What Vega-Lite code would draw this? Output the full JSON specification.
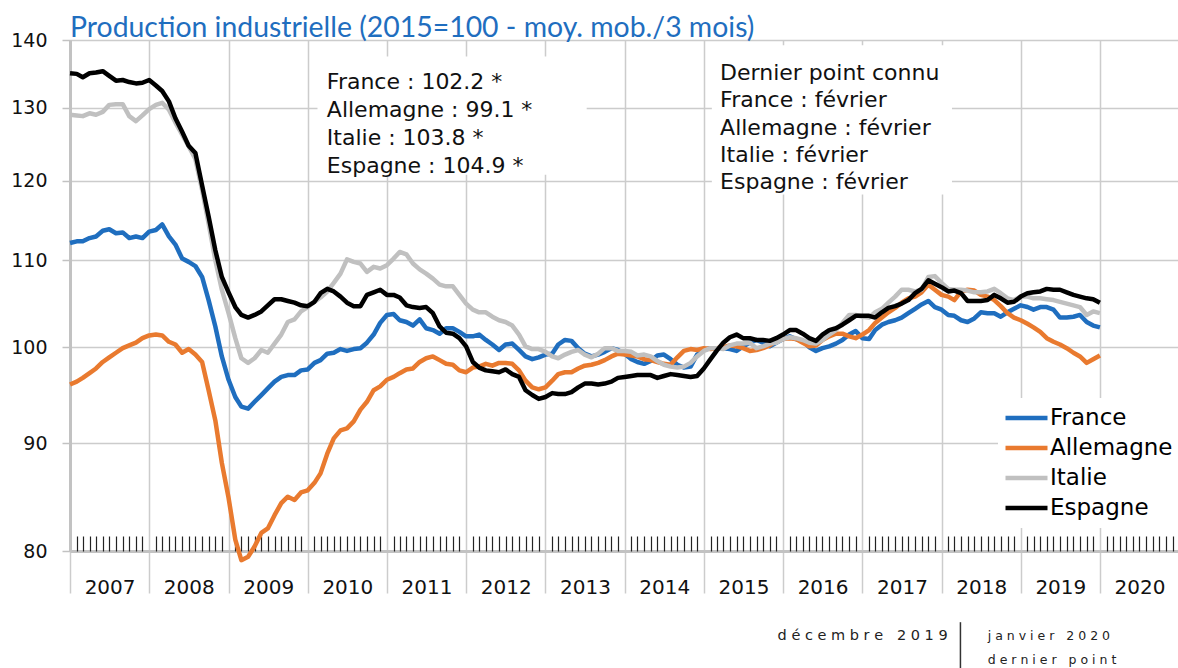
{
  "$schema": "https://vega.github.io/schema/vega-lite/v6.json",
  "width": 1108,
  "height": 511,
  "autosize": {"type": "none"},
  "padding": {"left": 70, "top": 40, "right": 0, "bottom": 117},
  "background": "white",
  "config": {"view": {"stroke": null}, "font": "DejaVu Sans"},
  "title": {"text": "Production industrielle (2015=100 - moy. mob./3 mois)", "anchor": "start", "frame": "group", "font": "Lato", "fontSize": 28.4, "fontWeight": "normal", "color": "#1f6ebf", "offset": 4, "dy": 16},
  "datasets": {
    "ip": [
      {"d":"2007/01/01","France":112.1,"Allemagne":96.0,"Italie":129.0,"Espagne":135.0},
      {"d":"2007/02/01","France":112.3,"Allemagne":96.3,"Italie":128.9,"Espagne":134.9},
      {"d":"2007/03/01","France":112.3,"Allemagne":96.7,"Italie":128.8,"Espagne":134.4},
      {"d":"2007/04/01","France":112.7,"Allemagne":97.2,"Italie":129.2,"Espagne":135.0},
      {"d":"2007/05/01","France":112.9,"Allemagne":97.7,"Italie":129.0,"Espagne":135.1},
      {"d":"2007/06/01","France":113.6,"Allemagne":98.4,"Italie":129.4,"Espagne":135.3},
      {"d":"2007/07/01","France":113.8,"Allemagne":98.9,"Italie":130.4,"Espagne":134.6},
      {"d":"2007/08/01","France":113.3,"Allemagne":99.4,"Italie":130.5,"Espagne":133.9},
      {"d":"2007/09/01","France":113.4,"Allemagne":99.9,"Italie":130.5,"Espagne":134.0},
      {"d":"2007/10/01","France":112.7,"Allemagne":100.2,"Italie":128.8,"Espagne":133.7},
      {"d":"2007/11/01","France":112.9,"Allemagne":100.5,"Italie":128.1,"Espagne":133.5},
      {"d":"2007/12/01","France":112.7,"Allemagne":101.0,"Italie":128.9,"Espagne":133.6},
      {"d":"2008/01/01","France":113.5,"Allemagne":101.3,"Italie":129.8,"Espagne":134.0},
      {"d":"2008/02/01","France":113.7,"Allemagne":101.4,"Italie":130.4,"Espagne":133.2},
      {"d":"2008/03/01","France":114.4,"Allemagne":101.3,"Italie":130.7,"Espagne":132.4},
      {"d":"2008/04/01","France":112.9,"Allemagne":100.6,"Italie":129.7,"Espagne":130.9},
      {"d":"2008/05/01","France":111.9,"Allemagne":100.3,"Italie":127.9,"Espagne":128.5},
      {"d":"2008/06/01","France":110.2,"Allemagne":99.4,"Italie":126.2,"Espagne":126.6},
      {"d":"2008/07/01","France":109.8,"Allemagne":99.8,"Italie":124.6,"Espagne":124.7},
      {"d":"2008/08/01","France":109.3,"Allemagne":99.2,"Italie":122.9,"Espagne":123.7},
      {"d":"2008/09/01","France":108.0,"Allemagne":98.4,"Italie":118.8,"Espagne":119.4},
      {"d":"2008/10/01","France":105.3,"Allemagne":95.4,"Italie":114.5,"Espagne":115.4},
      {"d":"2008/11/01","France":102.3,"Allemagne":92.3,"Italie":110.0,"Espagne":111.2},
      {"d":"2008/12/01","France":99.0,"Allemagne":88.1,"Italie":106.5,"Espagne":108.0},
      {"d":"2009/01/01","France":96.5,"Allemagne":84.8,"Italie":103.8,"Espagne":106.2},
      {"d":"2009/02/01","France":94.7,"Allemagne":81.0,"Italie":101.0,"Espagne":104.5},
      {"d":"2009/03/01","France":93.7,"Allemagne":79.2,"Italie":98.8,"Espagne":103.6},
      {"d":"2009/04/01","France":93.5,"Allemagne":79.5,"Italie":98.3,"Espagne":103.3},
      {"d":"2009/05/01","France":94.2,"Allemagne":80.4,"Italie":98.8,"Espagne":103.6},
      {"d":"2009/06/01","France":94.9,"Allemagne":81.6,"Italie":99.7,"Espagne":104.0},
      {"d":"2009/07/01","France":95.6,"Allemagne":82.0,"Italie":99.4,"Espagne":104.7},
      {"d":"2009/08/01","France":96.3,"Allemagne":83.2,"Italie":100.4,"Espagne":105.4},
      {"d":"2009/09/01","France":96.8,"Allemagne":84.3,"Italie":101.4,"Espagne":105.4},
      {"d":"2009/10/01","France":97.0,"Allemagne":84.9,"Italie":102.8,"Espagne":105.2},
      {"d":"2009/11/01","France":97.0,"Allemagne":84.6,"Italie":103.1,"Espagne":105.0},
      {"d":"2009/12/01","France":97.5,"Allemagne":85.3,"Italie":104.0,"Espagne":104.7},
      {"d":"2010/01/01","France":97.6,"Allemagne":85.5,"Italie":104.5,"Espagne":104.6},
      {"d":"2010/02/01","France":98.3,"Allemagne":86.2,"Italie":105.1,"Espagne":105.1},
      {"d":"2010/03/01","France":98.6,"Allemagne":87.1,"Italie":105.6,"Espagne":106.1},
      {"d":"2010/04/01","France":99.3,"Allemagne":89.0,"Italie":106.3,"Espagne":106.6},
      {"d":"2010/05/01","France":99.4,"Allemagne":90.5,"Italie":107.3,"Espagne":106.3},
      {"d":"2010/06/01","France":99.8,"Allemagne":91.3,"Italie":108.4,"Espagne":105.7},
      {"d":"2010/07/01","France":99.6,"Allemagne":91.5,"Italie":110.1,"Espagne":105.0},
      {"d":"2010/08/01","France":99.8,"Allemagne":92.2,"Italie":109.8,"Espagne":104.6},
      {"d":"2010/09/01","France":99.9,"Allemagne":93.4,"Italie":109.6,"Espagne":104.6},
      {"d":"2010/10/01","France":100.5,"Allemagne":94.2,"Italie":108.6,"Espagne":105.9},
      {"d":"2010/11/01","France":101.4,"Allemagne":95.4,"Italie":109.2,"Espagne":106.2},
      {"d":"2010/12/01","France":102.7,"Allemagne":95.8,"Italie":109.0,"Espagne":106.5},
      {"d":"2011/01/01","France":103.6,"Allemagne":96.5,"Italie":109.4,"Espagne":105.9},
      {"d":"2011/02/01","France":103.7,"Allemagne":96.8,"Italie":110.2,"Espagne":105.9},
      {"d":"2011/03/01","France":103.0,"Allemagne":97.2,"Italie":111.0,"Espagne":105.6},
      {"d":"2011/04/01","France":102.8,"Allemagne":97.6,"Italie":110.7,"Espagne":104.7},
      {"d":"2011/05/01","France":102.4,"Allemagne":97.7,"Italie":109.6,"Espagne":104.5},
      {"d":"2011/06/01","France":103.1,"Allemagne":98.4,"Italie":108.9,"Espagne":104.4},
      {"d":"2011/07/01","France":102.1,"Allemagne":98.8,"Italie":108.4,"Espagne":104.5},
      {"d":"2011/08/01","France":101.9,"Allemagne":99.0,"Italie":107.8,"Espagne":103.8},
      {"d":"2011/09/01","France":101.5,"Allemagne":98.6,"Italie":107.1,"Espagne":102.3},
      {"d":"2011/10/01","France":102.1,"Allemagne":98.2,"Italie":106.9,"Espagne":101.6},
      {"d":"2011/11/01","France":102.1,"Allemagne":98.1,"Italie":106.9,"Espagne":101.5},
      {"d":"2011/12/01","France":101.7,"Allemagne":97.5,"Italie":105.9,"Espagne":101.0},
      {"d":"2012/01/01","France":101.2,"Allemagne":97.3,"Italie":104.9,"Espagne":100.1},
      {"d":"2012/02/01","France":101.2,"Allemagne":97.8,"Italie":104.2,"Espagne":98.4},
      {"d":"2012/03/01","France":101.4,"Allemagne":97.9,"Italie":103.9,"Espagne":97.8},
      {"d":"2012/04/01","France":100.8,"Allemagne":98.2,"Italie":103.9,"Espagne":97.5},
      {"d":"2012/05/01","France":100.3,"Allemagne":98.0,"Italie":103.4,"Espagne":97.4},
      {"d":"2012/06/01","France":99.7,"Allemagne":98.3,"Italie":103.0,"Espagne":97.3},
      {"d":"2012/07/01","France":100.3,"Allemagne":98.3,"Italie":102.8,"Espagne":97.6},
      {"d":"2012/08/01","France":100.4,"Allemagne":98.2,"Italie":102.4,"Espagne":97.1},
      {"d":"2012/09/01","France":99.7,"Allemagne":97.5,"Italie":101.4,"Espagne":96.8},
      {"d":"2012/10/01","France":99.0,"Allemagne":96.4,"Italie":100.1,"Espagne":95.4},
      {"d":"2012/11/01","France":98.7,"Allemagne":95.7,"Italie":99.8,"Espagne":94.9},
      {"d":"2012/12/01","France":98.9,"Allemagne":95.5,"Italie":99.8,"Espagne":94.5},
      {"d":"2013/01/01","France":99.2,"Allemagne":95.7,"Italie":99.5,"Espagne":94.7},
      {"d":"2013/02/01","France":99.3,"Allemagne":96.4,"Italie":99.0,"Espagne":95.1},
      {"d":"2013/03/01","France":100.3,"Allemagne":97.1,"Italie":98.8,"Espagne":95.0},
      {"d":"2013/04/01","France":100.8,"Allemagne":97.3,"Italie":99.2,"Espagne":95.0},
      {"d":"2013/05/01","France":100.7,"Allemagne":97.3,"Italie":99.5,"Espagne":95.2},
      {"d":"2013/06/01","France":99.9,"Allemagne":97.7,"Italie":99.7,"Espagne":95.7},
      {"d":"2013/07/01","France":99.3,"Allemagne":98.0,"Italie":99.2,"Espagne":96.1},
      {"d":"2013/08/01","France":99.0,"Allemagne":98.1,"Italie":98.9,"Espagne":96.1},
      {"d":"2013/09/01","France":99.2,"Allemagne":98.3,"Italie":99.3,"Espagne":96.0},
      {"d":"2013/10/01","France":99.5,"Allemagne":98.6,"Italie":99.9,"Espagne":96.1},
      {"d":"2013/11/01","France":99.9,"Allemagne":99.0,"Italie":99.9,"Espagne":96.3},
      {"d":"2013/12/01","France":99.7,"Allemagne":99.3,"Italie":99.6,"Espagne":96.7},
      {"d":"2014/01/01","France":99.3,"Allemagne":99.2,"Italie":99.6,"Espagne":96.8},
      {"d":"2014/02/01","France":98.7,"Allemagne":99.1,"Italie":99.5,"Espagne":96.9},
      {"d":"2014/03/01","France":98.4,"Allemagne":99.0,"Italie":99.1,"Espagne":97.0},
      {"d":"2014/04/01","France":98.2,"Allemagne":98.7,"Italie":99.2,"Espagne":97.0},
      {"d":"2014/05/01","France":98.5,"Allemagne":98.6,"Italie":99.0,"Espagne":97.0},
      {"d":"2014/06/01","France":99.1,"Allemagne":98.4,"Italie":98.5,"Espagne":96.7},
      {"d":"2014/07/01","France":99.2,"Allemagne":98.2,"Italie":98.1,"Espagne":96.9},
      {"d":"2014/08/01","France":98.7,"Allemagne":98.1,"Italie":97.9,"Espagne":97.1},
      {"d":"2014/09/01","France":98.1,"Allemagne":98.9,"Italie":97.8,"Espagne":97.0},
      {"d":"2014/10/01","France":97.8,"Allemagne":99.6,"Italie":97.9,"Espagne":96.9},
      {"d":"2014/11/01","France":97.9,"Allemagne":99.8,"Italie":98.3,"Espagne":96.8},
      {"d":"2014/12/01","France":99.2,"Allemagne":99.7,"Italie":99.0,"Espagne":96.9},
      {"d":"2015/01/01","France":99.7,"Allemagne":99.9,"Italie":99.6,"Espagne":97.7},
      {"d":"2015/02/01","France":99.9,"Allemagne":99.8,"Italie":99.9,"Espagne":98.7},
      {"d":"2015/03/01","France":99.9,"Allemagne":99.9,"Italie":99.9,"Espagne":99.6},
      {"d":"2015/04/01","France":99.9,"Allemagne":100.0,"Italie":99.8,"Espagne":100.5},
      {"d":"2015/05/01","France":99.8,"Allemagne":100.2,"Italie":100.2,"Espagne":101.1},
      {"d":"2015/06/01","France":99.6,"Allemagne":100.1,"Italie":100.4,"Espagne":101.4},
      {"d":"2015/07/01","France":100.1,"Allemagne":99.9,"Italie":100.4,"Espagne":101.0},
      {"d":"2015/08/01","France":100.5,"Allemagne":99.6,"Italie":100.5,"Espagne":101.0},
      {"d":"2015/09/01","France":100.8,"Allemagne":99.7,"Italie":99.9,"Espagne":100.8},
      {"d":"2015/10/01","France":100.5,"Allemagne":99.9,"Italie":100.1,"Espagne":100.8},
      {"d":"2015/11/01","France":100.1,"Allemagne":100.2,"Italie":100.4,"Espagne":100.7},
      {"d":"2015/12/01","France":100.5,"Allemagne":100.7,"Italie":100.5,"Espagne":101.0},
      {"d":"2016/01/01","France":100.9,"Allemagne":100.9,"Italie":100.9,"Espagne":101.4},
      {"d":"2016/02/01","France":101.2,"Allemagne":101.0,"Italie":101.1,"Espagne":101.9},
      {"d":"2016/03/01","France":100.9,"Allemagne":100.9,"Italie":101.0,"Espagne":101.9},
      {"d":"2016/04/01","France":100.7,"Allemagne":100.5,"Italie":100.8,"Espagne":101.5},
      {"d":"2016/05/01","France":100.0,"Allemagne":100.1,"Italie":100.5,"Espagne":101.0},
      {"d":"2016/06/01","France":99.6,"Allemagne":100.2,"Italie":100.4,"Espagne":100.7},
      {"d":"2016/07/01","France":99.9,"Allemagne":100.8,"Italie":100.8,"Espagne":101.4},
      {"d":"2016/08/01","France":100.1,"Allemagne":101.2,"Italie":101.4,"Espagne":101.9},
      {"d":"2016/09/01","France":100.4,"Allemagne":101.5,"Italie":101.9,"Espagne":102.1},
      {"d":"2016/10/01","France":100.8,"Allemagne":101.5,"Italie":102.7,"Espagne":102.5},
      {"d":"2016/11/01","France":101.4,"Allemagne":101.2,"Italie":103.6,"Espagne":103.0},
      {"d":"2016/12/01","France":101.8,"Allemagne":101.0,"Italie":103.6,"Espagne":103.5},
      {"d":"2017/01/01","France":101.0,"Allemagne":101.4,"Italie":103.4,"Espagne":103.5},
      {"d":"2017/02/01","France":100.9,"Allemagne":101.9,"Italie":103.3,"Espagne":103.5},
      {"d":"2017/03/01","France":101.9,"Allemagne":102.7,"Italie":103.9,"Espagne":103.3},
      {"d":"2017/04/01","France":102.5,"Allemagne":103.3,"Italie":104.3,"Espagne":103.9},
      {"d":"2017/05/01","France":102.8,"Allemagne":103.9,"Italie":105.0,"Espagne":104.4},
      {"d":"2017/06/01","France":103.0,"Allemagne":104.4,"Italie":105.7,"Espagne":104.6},
      {"d":"2017/07/01","France":103.3,"Allemagne":105.0,"Italie":106.5,"Espagne":104.9},
      {"d":"2017/08/01","France":103.8,"Allemagne":105.5,"Italie":106.5,"Espagne":105.3},
      {"d":"2017/09/01","France":104.3,"Allemagne":105.7,"Italie":106.3,"Espagne":106.1},
      {"d":"2017/10/01","France":104.8,"Allemagne":106.2,"Italie":106.5,"Espagne":106.6},
      {"d":"2017/11/01","France":105.2,"Allemagne":107.1,"Italie":108.0,"Espagne":107.6},
      {"d":"2017/12/01","France":104.5,"Allemagne":106.5,"Italie":108.1,"Espagne":107.2},
      {"d":"2018/01/01","France":104.2,"Allemagne":105.9,"Italie":107.3,"Espagne":106.8},
      {"d":"2018/02/01","France":103.6,"Allemagne":105.7,"Italie":106.6,"Espagne":106.3},
      {"d":"2018/03/01","France":103.5,"Allemagne":105.3,"Italie":106.5,"Espagne":106.4},
      {"d":"2018/04/01","France":103.0,"Allemagne":106.3,"Italie":106.5,"Espagne":106.1},
      {"d":"2018/05/01","France":102.8,"Allemagne":106.5,"Italie":106.4,"Espagne":105.2},
      {"d":"2018/06/01","France":103.2,"Allemagne":106.4,"Italie":106.2,"Espagne":105.2},
      {"d":"2018/07/01","France":103.9,"Allemagne":105.9,"Italie":106.2,"Espagne":105.2},
      {"d":"2018/08/01","France":103.8,"Allemagne":105.7,"Italie":106.3,"Espagne":105.3},
      {"d":"2018/09/01","France":103.8,"Allemagne":105.3,"Italie":106.6,"Espagne":105.9},
      {"d":"2018/10/01","France":103.4,"Allemagne":104.6,"Italie":106.1,"Espagne":105.5},
      {"d":"2018/11/01","France":103.9,"Allemagne":103.8,"Italie":105.5,"Espagne":105.0},
      {"d":"2018/12/01","France":104.3,"Allemagne":103.3,"Italie":105.3,"Espagne":105.1},
      {"d":"2019/01/01","France":104.7,"Allemagne":103.0,"Italie":105.7,"Espagne":105.7},
      {"d":"2019/02/01","France":104.5,"Allemagne":102.6,"Italie":105.7,"Espagne":106.1},
      {"d":"2019/03/01","France":104.2,"Allemagne":102.2,"Italie":105.5,"Espagne":106.2},
      {"d":"2019/04/01","France":104.5,"Allemagne":101.7,"Italie":105.5,"Espagne":106.3},
      {"d":"2019/05/01","France":104.5,"Allemagne":101.0,"Italie":105.4,"Espagne":106.6},
      {"d":"2019/06/01","France":104.2,"Allemagne":100.6,"Italie":105.3,"Espagne":106.5},
      {"d":"2019/07/01","France":103.3,"Allemagne":100.3,"Italie":105.1,"Espagne":106.5},
      {"d":"2019/08/01","France":103.3,"Allemagne":99.9,"Italie":104.9,"Espagne":106.2},
      {"d":"2019/09/01","France":103.4,"Allemagne":99.4,"Italie":104.7,"Espagne":105.9},
      {"d":"2019/10/01","France":103.6,"Allemagne":99.0,"Italie":104.5,"Espagne":105.7},
      {"d":"2019/11/01","France":102.8,"Allemagne":98.3,"Italie":103.6,"Espagne":105.5},
      {"d":"2019/12/01","France":102.4,"Allemagne":98.7,"Italie":104.0,"Espagne":105.4},
      {"d":"2020/01/01","France":102.2,"Allemagne":99.1,"Italie":103.8,"Espagne":105.0}
    ]
  },
  "layer": [
    {
      "data": {"values": [{}]},
      "mark": {"type": "rect", "fill": "white"},
      "encoding": {
        "x": {"datum": {"year": 2010, "month": 2, "date": 15}, "type": "temporal", "axis": null},
        "x2": {"datum": {"year": 2013, "month": 7, "date": 10}},
        "y": {"datum": 137.5, "type": "quantitative", "axis": null},
        "y2": {"datum": 120.8}
      }
    },
    {
      "data": {"values": [{}]},
      "mark": {"type": "rect", "fill": "white"},
      "encoding": {
        "x": {"datum": {"year": 2015, "month": 2, "date": 7}, "type": "temporal", "axis": null},
        "x2": {"datum": {"year": 2018, "month": 2, "date": 18}},
        "y": {"datum": 139.2, "type": "quantitative", "axis": null},
        "y2": {"datum": 118.2}
      }
    },
    {
      "data": {"name": "ip"},
      "transform": [{"fold": ["France", "Allemagne", "Italie", "Espagne"], "as": ["pays", "indice"]}],
      "mark": {"type": "line", "strokeWidth": 4.5, "strokeJoin": "round", "clip": false},
      "encoding": {
        "x": {
          "field": "d", "type": "temporal",
          "scale": {"domain": [{"year": 2007, "month": 1, "date": 1}, {"year": 2020, "month": 12, "date": 26}], "nice": false},
          "axis": {
            "orient": "bottom", "title": null,
            "values": [{"year":2007,"month":1},{"year":2008,"month":1},{"year":2009,"month":1},{"year":2010,"month":1},{"year":2011,"month":1},{"year":2012,"month":1},{"year":2013,"month":1},{"year":2014,"month":1},{"year":2015,"month":1},{"year":2016,"month":1},{"year":2017,"month":1},{"year":2018,"month":1},{"year":2019,"month":1},{"year":2020,"month":1}],
            "format": "%Y",
            "grid": true, "gridColor": "#cccccc", "gridWidth": 1.5,
            "domain": true, "domainColor": "#c2c2c2", "domainWidth": 3,
            "ticks": true, "tickSize": 42, "tickColor": "#cccccc", "tickWidth": 1.5,
            "labelFont": "DejaVu Sans", "labelFontSize": 20, "labelColor": "#111111",
            "labelBaseline": "alphabetic", "labelPadding": 0, "labelOffset": 39.6,
            "labelOverlap": false, "labelFlush": false, "labelBound": false
          }
        },
        "y": {
          "field": "indice", "type": "quantitative",
          "scale": {"type": "log", "domain": [80, 140], "nice": false, "zero": false},
          "axis": {
            "orient": "left", "title": null, "values": [80, 90, 100, 110, 120, 130, 140], "format": "d",
            "grid": true, "gridColor": "#cccccc", "gridWidth": 1.5,
            "domain": true, "domainColor": "#c2c2c2", "domainWidth": 3,
            "ticks": true, "tickSize": 8, "tickColor": "#c2c2c2", "tickWidth": 1.5,
            "labelFont": "DejaVu Sans", "labelFontSize": 19, "labelColor": "#111111",
            "labelPadding": 15, "labelFlush": false, "labelOverlap": false, "labelBound": false
          }
        },
        "color": {
          "field": "pays", "type": "nominal",
          "scale": {"domain": ["France", "Allemagne", "Italie", "Espagne"], "range": ["#1f6ebf", "#e97a2f", "#c0c0c0", "#000000"]},
          "legend": {
            "orient": "none", "legendX": 928, "legendY": 358, "title": null,
            "symbolType": "stroke", "symbolSize": 1764, "symbolStrokeWidth": 4.5,
            "labelFont": "DejaVu Sans", "labelFontSize": 23, "labelColor": "#000000",
            "labelOffset": 0, "rowPadding": 0, "clipHeight": 30, "fillColor": "white", "padding": 5, "labelLimit": 300
          }
        }
      }
    },
    {
      "data": {"values": [{}]},
      "mark": {"type": "text", "text": ["France : 102.2 *", "Allemagne : 99.1 *", "Italie : 103.8 *", "Espagne : 104.9 *"], "align": "left", "baseline": "alphabetic", "font": "DejaVu Sans", "fontSize": 22, "lineHeight": 27.8, "fill": "#111111"},
      "encoding": {
        "x": {"datum": {"year": 2010, "month": 3, "date": 30}, "type": "temporal", "axis": null},
        "y": {"datum": 132.65, "type": "quantitative", "axis": null}
      }
    },
    {
      "data": {"values": [{}]},
      "mark": {"type": "text", "text": ["Dernier point connu", "France : février", "Allemagne : février", "Italie : février", "Espagne : février"], "align": "left", "baseline": "alphabetic", "font": "DejaVu Sans", "fontSize": 22, "lineHeight": 27.3, "fill": "#111111"},
      "encoding": {
        "x": {"datum": {"year": 2015, "month": 3, "date": 17}, "type": "temporal", "axis": null},
        "y": {"datum": 134.0, "type": "quantitative", "axis": null}
      }
    },
    {
      "data": {"values": [{}]},
      "mark": {"type": "text", "text": "d é c e m b r e \u00a0 2 0 1 9", "align": "left", "baseline": "alphabetic", "font": "DejaVu Sans", "fontSize": 14.5, "fill": "#222222"},
      "encoding": {
        "x": {"datum": {"year": 2015, "month": 12, "date": 7}, "type": "temporal", "axis": null},
        "y": {"datum": 72.57, "type": "quantitative", "axis": null}
      }
    },
    {
      "data": {"values": [{}]},
      "mark": {"type": "text", "text": ["j a n v i e r \u00a0 2 0 2 0", "d e r n i e r \u00a0 p o i n t"], "align": "left", "baseline": "alphabetic", "font": "DejaVu Sans", "fontSize": 12.5, "lineHeight": 24, "fill": "#222222"},
      "encoding": {
        "x": {"datum": {"year": 2018, "month": 8, "date": 2}, "type": "temporal", "axis": null},
        "y": {"datum": 72.57, "type": "quantitative", "axis": null}
      }
    },
    {
      "data": {"values": [{}]},
      "mark": {"type": "rule", "stroke": "#333333", "strokeWidth": 1.5},
      "encoding": {
        "x": {"datum": {"year": 2018, "month": 3, "date": 29}, "type": "temporal", "axis": null},
        "y": {"datum": 74.0, "type": "quantitative", "axis": null},
        "y2": {"datum": 69.5}
      }
    },
    {
      "data": {"values": [{}]},
      "mark": {"type": "point", "opacity": 0},
      "encoding": {
        "x": {
          "datum": {"year": 2010, "month": 6, "date": 1}, "type": "temporal",
          "axis": {
            "orient": "bottom", "title": null, "labels": false, "domain": false, "grid": false,
            "ticks": true, "tickSize": -15, "tickColor": "#222222", "tickWidth": 1.2,
            "values": [
              {"year":2007,"month":2},{"year":2007,"month":3},{"year":2007,"month":4},{"year":2007,"month":5},{"year":2007,"month":6},{"year":2007,"month":7},{"year":2007,"month":8},{"year":2007,"month":9},{"year":2007,"month":10},{"year":2007,"month":11},{"year":2007,"month":12},
              {"year":2008,"month":2},{"year":2008,"month":3},{"year":2008,"month":4},{"year":2008,"month":5},{"year":2008,"month":6},{"year":2008,"month":7},{"year":2008,"month":8},{"year":2008,"month":9},{"year":2008,"month":10},{"year":2008,"month":11},{"year":2008,"month":12},
              {"year":2009,"month":2},{"year":2009,"month":3},{"year":2009,"month":4},{"year":2009,"month":5},{"year":2009,"month":6},{"year":2009,"month":7},{"year":2009,"month":8},{"year":2009,"month":9},{"year":2009,"month":10},{"year":2009,"month":11},{"year":2009,"month":12},
              {"year":2010,"month":2},{"year":2010,"month":3},{"year":2010,"month":4},{"year":2010,"month":5},{"year":2010,"month":6},{"year":2010,"month":7},{"year":2010,"month":8},{"year":2010,"month":9},{"year":2010,"month":10},{"year":2010,"month":11},{"year":2010,"month":12},
              {"year":2011,"month":2},{"year":2011,"month":3},{"year":2011,"month":4},{"year":2011,"month":5},{"year":2011,"month":6},{"year":2011,"month":7},{"year":2011,"month":8},{"year":2011,"month":9},{"year":2011,"month":10},{"year":2011,"month":11},{"year":2011,"month":12},
              {"year":2012,"month":2},{"year":2012,"month":3},{"year":2012,"month":4},{"year":2012,"month":5},{"year":2012,"month":6},{"year":2012,"month":7},{"year":2012,"month":8},{"year":2012,"month":9},{"year":2012,"month":10},{"year":2012,"month":11},{"year":2012,"month":12},
              {"year":2013,"month":2},{"year":2013,"month":3},{"year":2013,"month":4},{"year":2013,"month":5},{"year":2013,"month":6},{"year":2013,"month":7},{"year":2013,"month":8},{"year":2013,"month":9},{"year":2013,"month":10},{"year":2013,"month":11},{"year":2013,"month":12},
              {"year":2014,"month":2},{"year":2014,"month":3},{"year":2014,"month":4},{"year":2014,"month":5},{"year":2014,"month":6},{"year":2014,"month":7},{"year":2014,"month":8},{"year":2014,"month":9},{"year":2014,"month":10},{"year":2014,"month":11},{"year":2014,"month":12},
              {"year":2015,"month":2},{"year":2015,"month":3},{"year":2015,"month":4},{"year":2015,"month":5},{"year":2015,"month":6},{"year":2015,"month":7},{"year":2015,"month":8},{"year":2015,"month":9},{"year":2015,"month":10},{"year":2015,"month":11},{"year":2015,"month":12},
              {"year":2016,"month":2},{"year":2016,"month":3},{"year":2016,"month":4},{"year":2016,"month":5},{"year":2016,"month":6},{"year":2016,"month":7},{"year":2016,"month":8},{"year":2016,"month":9},{"year":2016,"month":10},{"year":2016,"month":11},{"year":2016,"month":12},
              {"year":2017,"month":2},{"year":2017,"month":3},{"year":2017,"month":4},{"year":2017,"month":5},{"year":2017,"month":6},{"year":2017,"month":7},{"year":2017,"month":8},{"year":2017,"month":9},{"year":2017,"month":10},{"year":2017,"month":11},{"year":2017,"month":12},
              {"year":2018,"month":2},{"year":2018,"month":3},{"year":2018,"month":4},{"year":2018,"month":5},{"year":2018,"month":6},{"year":2018,"month":7},{"year":2018,"month":8},{"year":2018,"month":9},{"year":2018,"month":10},{"year":2018,"month":11},{"year":2018,"month":12},
              {"year":2019,"month":2},{"year":2019,"month":3},{"year":2019,"month":4},{"year":2019,"month":5},{"year":2019,"month":6},{"year":2019,"month":7},{"year":2019,"month":8},{"year":2019,"month":9},{"year":2019,"month":10},{"year":2019,"month":11},{"year":2019,"month":12},
              {"year":2020,"month":2},{"year":2020,"month":3},{"year":2020,"month":4},{"year":2020,"month":5},{"year":2020,"month":6},{"year":2020,"month":7},{"year":2020,"month":8},{"year":2020,"month":9},{"year":2020,"month":10},{"year":2020,"month":11},{"year":2020,"month":12}
            ]
          }
        }
      }
    }
  ],
  "resolve": {"axis": {"x": "independent", "y": "independent"}}
}
